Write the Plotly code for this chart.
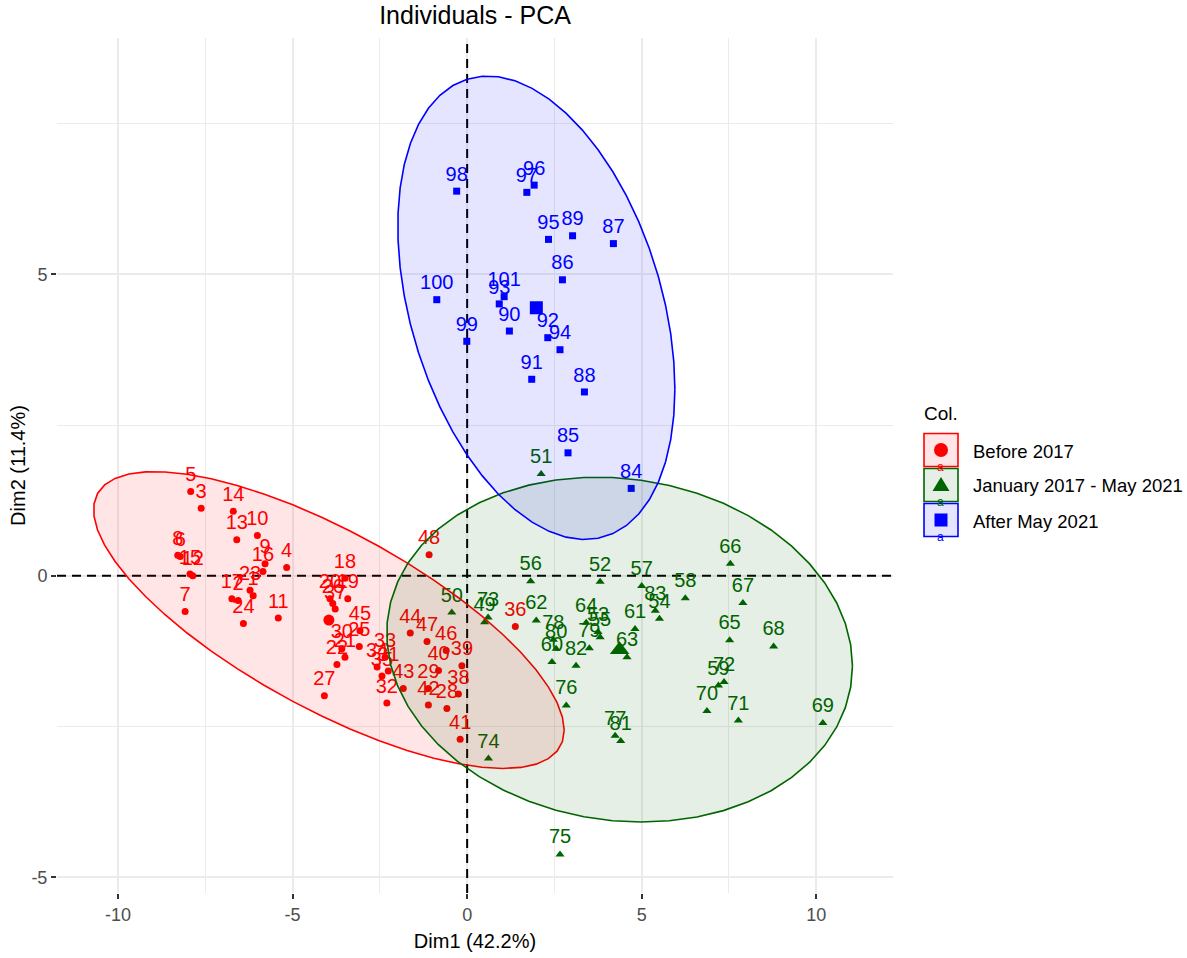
import numpy as np
import plotly.graph_objects as go

# ---------------- data ----------------
groups = ["Before 2017", "January 2017 - May 2021", "After May 2021"]

before_labels = ["1", "2", "3", "4", "5", "6", "7", "8", "9", "10", "11", "12", "13", "14", "15", "16",
                 "17", "18", "19", "20", "21", "22", "23", "24", "25", "26", "27", "28", "29", "30", "31", "32",
                 "33", "34", "35", "36", "37", "38", "39", "40", "41", "42", "43", "44", "45", "46", "47", "48"]
before_x = [-6.13, -6.56, -7.62, -5.17, -7.92, -8.22, -8.08, -8.29, -5.79, -6.01,
            -5.41, -7.86, -6.60, -6.70, -7.94, -5.85, -6.74, -3.50, -3.42, -3.93,
            -3.50, -3.73, -6.22, -6.41, -3.09, -3.85, -4.09, -0.58, -1.11, -3.59,
            -2.26, -2.30, -2.35, -2.58, -2.44, 1.38, -3.78, -0.25, -0.15, -0.82,
            -0.20, -1.11, -1.83, -1.63, -3.07, -0.60, -1.15, -1.09]
before_y = [-0.33, -0.41, 1.12, 0.14, 1.40, 0.32, -0.59, 0.34, 0.20, 0.67,
            -0.70, 0.00, 0.60, 1.07, 0.03, 0.07, -0.38, -0.04, -0.38, -0.38,
            -1.35, -1.47, -0.24, -0.79, -1.17, -0.46, -1.99, -2.20, -1.87, -1.21,
            -1.58, -2.11, -1.35, -1.51, -1.66, -0.84, -0.55, -1.96, -1.49, -1.57,
            -2.71, -2.14, -1.87, -0.95, -0.91, -1.24, -1.09, 0.35]

mid_labels = ["49", "50", "51", "52", "53", "54", "55", "56", "57", "58", "59", "60", "61", "62", "63",
              "64", "65", "66", "67", "68", "69", "70", "71", "72", "73", "74", "75", "76", "77", "78",
              "79", "80", "81", "82", "83"]
mid_x = [0.50, -0.44, 2.12, 3.81, 3.75, 5.51, 3.81, 1.82, 5.00, 6.25,
         7.20, 2.43, 4.81, 1.98, 4.58, 3.41, 7.52, 7.54, 7.90, 8.78,
         10.19, 6.87, 7.77, 7.36, 0.60, 0.61, 2.66, 2.84, 4.24, 2.47,
         3.50, 2.55, 4.40, 3.12, 5.39]
mid_y = [-0.77, -0.61, 1.69, -0.10, -0.93, -0.71, -1.02, -0.09, -0.17, -0.37,
         -1.82, -1.43, -0.88, -0.74, -1.35, -0.78, -1.07, 0.20, -0.45, -1.17,
         -2.44, -2.24, -2.40, -1.76, -0.69, -3.03, -4.62, -2.15, -2.65, -1.06,
         -1.20, -1.21, -2.74, -1.49, -0.58]

after_labels = ["84", "85", "86", "87", "88", "89", "90", "91", "92", "93", "94", "95", "96", "97",
                "98", "99", "100", "101"]
after_x = [4.70, 2.89, 2.73, 4.19, 3.36, 3.02, 1.21, 1.85, 2.31, 0.92, 2.66, 2.33, 1.92, 1.71,
           -0.30, -0.01, -0.87, 1.06]
after_y = [1.45, 2.04, 4.91, 5.51, 3.05, 5.64, 4.06, 3.26, 3.95, 4.51, 3.75, 5.58, 6.48, 6.36,
           6.38, 3.89, 4.58, 4.63]

x_range = [-11.75, 12.2]
y_range = [-5.26, 8.92]
x_tickvals = [-10, -5, 0, 5, 10]
x_ticktext = ["-10", "-5", "0", "5", "10"]
y_tickvals = [-5, 0, 5]
y_ticktext = ["-5", "0", "5"]

title_text = "Individuals - PCA"
x_title = "Dim1 (42.2%)"
y_title = "Dim2 (11.4%)"
legend_title = "Col."

# ---------------- styling ----------------
W, H = 1187, 958
ML, MR, MT, MB = 57, 294, 38, 65
PW, PH = W - ML - MR, H - MT - MB
FONT = "Liberation Sans, Arial, sans-serif"

colors = ["#FF0000", "#006400", "#0000FF"]
fills = ["rgba(255,0,0,0.1)", "rgba(0,100,0,0.1)", "rgba(0,0,255,0.1)"]
symbols = ["circle", "triangle-up", "square"]
pt_sizes = [7, 8, 7]
mean_sizes = [11, 17, 13]


def norm_ellipse(x, y, level=0.95, segments=51):
    """Same computation as ggplot2::stat_ellipse(type = 'norm')."""
    pts = np.column_stack([x, y])
    n = len(pts)
    center = pts.mean(axis=0)
    cov = np.cov(pts.T)
    chol = np.linalg.cholesky(cov).T
    d = n - 1
    fq = (d / 2.0) * ((1 - level) ** (-2.0 / d) - 1)  # qf(level, 2, d)
    radius = np.sqrt(2 * fq)
    ang = np.arange(segments + 1) * 2 * np.pi / segments
    circ = np.column_stack([np.cos(ang), np.sin(ang)])
    ell = center + radius * circ @ chol
    return ell[:, 0], ell[:, 1]


data = [(before_x, before_y, before_labels),
        (mid_x, mid_y, mid_labels),
        (after_x, after_y, after_labels)]

fig = go.Figure()

# dashed reference lines at 0 (drawn first, under the points)
fig.add_trace(go.Scatter(x=x_range, y=[0, 0], mode="lines",
                         line=dict(color="black", width=2, dash="9px,6px"),
                         showlegend=False, hoverinfo="skip"))
fig.add_trace(go.Scatter(x=[0, 0], y=y_range, mode="lines",
                         line=dict(color="black", width=2, dash="9px,6px"),
                         showlegend=False, hoverinfo="skip"))

# points + labels
for i, (gx, gy, gl) in enumerate(data):
    fig.add_trace(go.Scatter(
        x=gx, y=gy, text=gl, mode="markers+text", textposition="top center",
        marker=dict(symbol=symbols[i], size=pt_sizes[i], color=colors[i], line=dict(width=0)),
        textfont=dict(family=FONT, size=20, color=colors[i]),
        showlegend=False, hoverinfo="skip", cliponaxis=False))

# ellipses
for i, (gx, gy, gl) in enumerate(data):
    ex, ey = norm_ellipse(np.array(gx), np.array(gy))
    fig.add_trace(go.Scatter(
        x=ex, y=ey, mode="lines", fill="toself", fillcolor=fills[i],
        line=dict(color=colors[i], width=1.6), showlegend=False, hoverinfo="skip"))

# group means
for i, (gx, gy, gl) in enumerate(data):
    fig.add_trace(go.Scatter(
        x=[float(np.mean(gx))], y=[float(np.mean(gy))], mode="markers",
        marker=dict(symbol=symbols[i], size=mean_sizes[i], color=colors[i], line=dict(width=0)),
        showlegend=False, hoverinfo="skip"))


# ---------------- custom legend (ggplot style) ----------------
def px2paper(px, py):
    return (px - ML) / PW, (H - MB - py) / PH


fig.add_annotation(text=legend_title, xref="paper", yref="paper",
                   x=px2paper(922, 0)[0], y=px2paper(0, 413)[1], xanchor="left", yanchor="middle",
                   showarrow=False, font=dict(family=FONT, size=19, color="black"))
box_centers = [450, 485, 520]
for i, g in enumerate(groups):
    cy = box_centers[i]
    x0, y0 = px2paper(924, cy + 16.5)
    x1, y1 = px2paper(958, cy - 16.5)
    fig.add_shape(type="rect", xref="paper", yref="paper", x0=x0, x1=x1, y0=y0, y1=y1,
                  line=dict(color=colors[i], width=1.6), fillcolor=fills[i], layer="above")
    cx = 941
    if symbols[i] == "circle":
        a0, b0 = px2paper(cx - 7, cy + 7)
        a1, b1 = px2paper(cx + 7, cy - 7)
        fig.add_shape(type="circle", xref="paper", yref="paper", x0=a0, x1=a1, y0=b0, y1=b1,
                      line=dict(width=0), fillcolor=colors[i], layer="above")
    elif symbols[i] == "triangle-up":
        p1 = px2paper(cx, cy - 8)
        p2 = px2paper(cx - 8.5, cy + 6)
        p3 = px2paper(cx + 8.5, cy + 6)
        path = f"M{p1[0]},{p1[1]} L{p2[0]},{p2[1]} L{p3[0]},{p3[1]} Z"
        fig.add_shape(type="path", xref="paper", yref="paper", path=path,
                      line=dict(width=0), fillcolor=colors[i], layer="above")
    else:
        a0, b0 = px2paper(cx - 6.5, cy + 6.5)
        a1, b1 = px2paper(cx + 6.5, cy - 6.5)
        fig.add_shape(type="rect", xref="paper", yref="paper", x0=a0, x1=a1, y0=b0, y1=b1,
                      line=dict(width=0), fillcolor=colors[i], layer="above")
    ax, ay = px2paper(940, cy + 17)
    fig.add_annotation(text="a", xref="paper", yref="paper", x=ax, y=ay,
                       xanchor="center", yanchor="middle", showarrow=False,
                       font=dict(family=FONT, size=12, color=colors[i]))
    tx, ty = px2paper(971, cy + 1)
    fig.add_annotation(text=g, xref="paper", yref="paper", x=tx, y=ty,
                       xanchor="left", yanchor="middle", showarrow=False,
                       font=dict(family=FONT, size=18.5, color="black"))

axis_common = dict(
    showline=False, zeroline=False, showgrid=True, gridcolor="#EBEBEB", gridwidth=1.6,
    ticks="outside", ticklen=5, tickwidth=1.5, tickcolor="#333333",
    tickfont=dict(family=FONT, size=18, color="#4D4D4D"), automargin=False,
)

fig.update_layout(
    width=W, height=H, autosize=False,
    margin=dict(l=ML, r=MR, t=MT, b=MB, pad=0),
    paper_bgcolor="white", plot_bgcolor="white",
    title=dict(text=title_text, x=(ML + PW / 2) / W, xanchor="center", y=1 - 15 / H, yanchor="middle",
               font=dict(family=FONT, size=25, color="black")),
    xaxis=dict(range=x_range, tickvals=x_tickvals, ticktext=x_ticktext,
               title=dict(text=x_title, font=dict(family=FONT, size=20, color="black"), standoff=10),
               minor=dict(dtick=2.5, tick0=0, showgrid=True, gridcolor="#EBEBEB", gridwidth=1.0, ticks=""),
               **axis_common),
    yaxis=dict(range=y_range, tickvals=y_tickvals, ticktext=y_ticktext,
               title=dict(text=y_title, font=dict(family=FONT, size=20, color="black"), standoff=0),
               minor=dict(dtick=2.5, tick0=0, showgrid=True, gridcolor="#EBEBEB", gridwidth=1.0, ticks=""),
               **axis_common),
    showlegend=False,
)

fig.write_html("out.html")
